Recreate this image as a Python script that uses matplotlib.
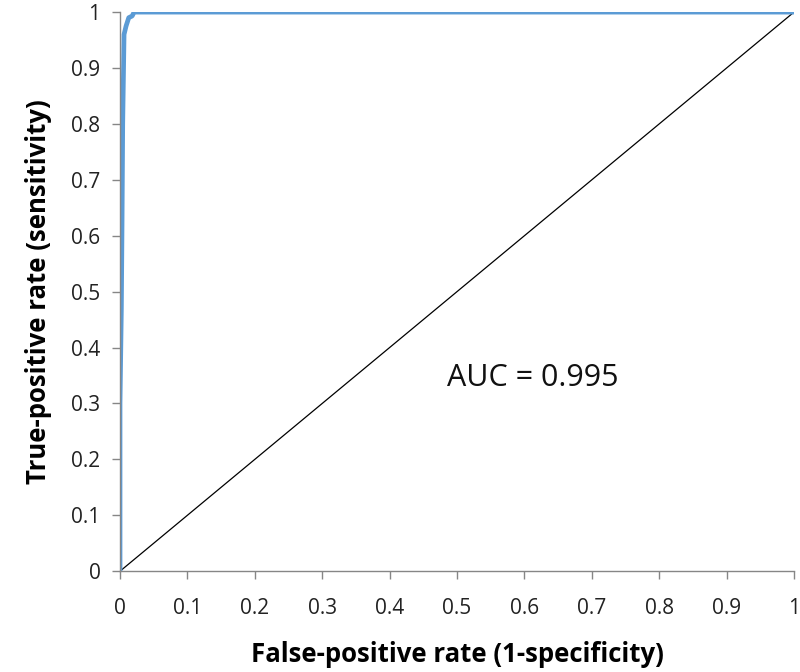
import numpy as np
import matplotlib
matplotlib.use("Agg")
import matplotlib.pyplot as plt

plt.rcParams['font.family'] = ['Open Sans', 'DejaVu Sans']

# ROC curve points
fpr = [0.0, 0.0, 0.002, 0.003, 0.004, 0.005, 0.006, 0.009, 0.013, 0.018, 0.021, 1.0]
tpr = [0.0, 0.30, 0.47, 0.62, 0.80, 0.88, 0.96, 0.975, 0.99, 0.993, 1.0, 1.0]
diag = [0.0, 1.0]
ticks = [0, 0.1, 0.2, 0.3, 0.4, 0.5, 0.6, 0.7, 0.8, 0.9, 1]
tick_labels = ['0', '0.1', '0.2', '0.3', '0.4', '0.5', '0.6', '0.7', '0.8', '0.9', '1']
auc_text = 'AUC = 0.995'

fig = plt.figure(figsize=(8, 6.72), dpi=100)
ax = fig.add_axes([0.15, 0.150, 0.8425, 0.832])

ax.plot(diag, diag, color='black', linewidth=0.9)
ax.plot(fpr, tpr, color='#5B9BD5', linewidth=3.4, solid_joinstyle='round')

ax.set_xlim(0, 1)
ax.set_ylim(0, 1)
ax.set_xticks(ticks)
ax.set_xticklabels(tick_labels)
ax.set_yticks(ticks)
ax.set_yticklabels(tick_labels)

for side in ['top', 'right']:
    ax.spines[side].set_visible(False)
for side in ['left', 'bottom']:
    ax.spines[side].set_color('#868686')
    ax.spines[side].set_linewidth(1.0)

ax.tick_params(axis='both', colors='#868686', length=6, width=1.0,
               labelsize=15, labelcolor='#222222')
ax.tick_params(axis='x', pad=13)
ax.tick_params(axis='y', pad=8)

ax.set_xlabel('False-positive rate (1-specificity)', fontsize=18.5,
              fontweight='bold', labelpad=16)
ax.set_ylabel('True-positive rate (sensitivity)', fontsize=18.5,
              fontweight='bold', labelpad=14)

ax.text(0.485, 0.345, auc_text, fontsize=22, va='center', ha='left',
        color='#111111')

fig.savefig('out.png', dpi=100)
